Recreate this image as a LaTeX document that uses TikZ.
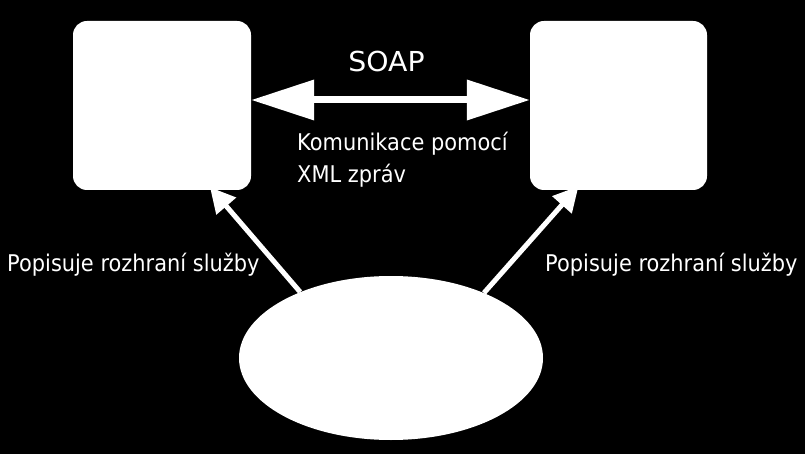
\documentclass[tikz,border=0pt]{standalone}
\usepackage{fontspec}
\setmainfont{DejaVu Sans}[FakeStretch=0.91]
\newfontfamily\soapfont{DejaVu Sans}[FakeStretch=1.03]
\usetikzlibrary{arrows.meta,shapes.geometric}
\tikzset{
  box/.style={draw=none,fill=white,rounded corners=14pt,minimum width=178pt,minimum height=169pt,inner sep=0pt},
  ell/.style={ellipse,draw=none,fill=white,minimum width=304pt,minimum height=164pt,inner sep=0pt},
  lab/.style={text=white,font=\fontsize{23}{27}\selectfont,inner sep=0pt},
  bigarrow/.style={draw=white,line width=7pt,{Triangle[length=63pt,width=39pt]}-{Triangle[length=63pt,width=39pt]}},
  diagarrow/.style={draw=white,line width=5pt,-{Triangle[length=25pt,width=25pt]}}
}
\begin{document}
\begin{tikzpicture}[x=1pt,y=1pt]
\fill[black] (0,0) rectangle (805,-454);
\useasboundingbox (0,0) rectangle (805,-454);
\node[box] (lbox) at (162,-105.5) {};
\node[box,minimum width=177pt] (rbox) at (618.5,-105.5) {};
\node[ell] (ell) at (391,-358) {};
\draw[bigarrow] ([yshift=5.5pt]lbox.east) -- ([yshift=5.5pt]rbox.west);
\coordinate (ltip) at ([xshift=48pt,yshift=3pt]lbox.south);
\coordinate (rtip) at ([xshift=-40pt,yshift=4pt]rbox.south);
\draw[diagarrow] (ell.144) -- (ltip);
\draw[diagarrow] (ell.35) -- (rtip);
\node[lab,anchor=base,font=\soapfont\fontsize{27.5}{32}\selectfont] (soap) at (386.5,-72) {SOAP};
\node[lab,anchor=base west] (kom1) at (297,-151) {Komunikace pomocí};
\node[lab,anchor=base west] (kom2) at (297,-183) {XML zpráv};
\node[lab,anchor=base west] (pl) at (7,-271) {Popisuje rozhraní služby};
\node[lab,anchor=base west] (pr) at (545,-271) {Popisuje rozhraní služby};
\end{tikzpicture}
\end{document}
